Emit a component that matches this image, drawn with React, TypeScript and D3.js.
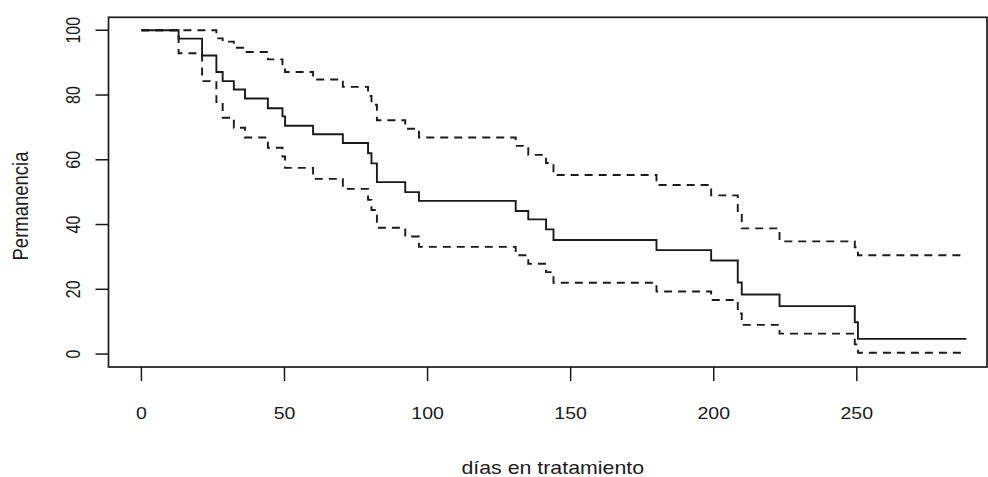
import React from "react";
import * as d3 from "d3";

// tiempos de cada escalon (dias)
const tiempos = [0, 13, 21.2, 26.2, 28.4, 32.3, 36.2, 44.2, 49.3, 50.2, 60, 70.4, 79.2, 80.4, 82.3, 92.2, 97, 130.8, 135.2, 141.4, 144, 180, 199.1, 208.4, 209.8, 223, 249.3, 250.4, 288.3];
const supervivencia = [100, 97.4, 92.2, 87.1, 84.3, 81.7, 78.9, 75.9, 73.4, 70.5, 67.9, 65.2, 62.0, 58.9, 53.1, 50.0, 47.3, 44.2, 41.6, 38.5, 35.2, 32.1, 28.9, 22.1, 18.4, 14.8, 9.8, 4.7, 4.7];
const superior = [100, 100, 100, 97.5, 96.5, 94.6, 93.3, 91.0, 89.5, 87.1, 84.8, 82.5, 79.7, 77.0, 72.2, 69.6, 66.9, 64.3, 61.5, 59.0, 55.3, 52.2, 49.0, 43.5, 38.8, 34.8, 33.0, 30.5, 30.5];
const inferior = [100, 92.9, 84.3, 77.8, 73.0, 69.9, 66.9, 63.7, 61.0, 57.5, 54.1, 51.0, 47.6, 44.5, 39.0, 36.3, 33.1, 30.5, 27.9, 25.3, 22.0, 19.3, 16.7, 12.5, 9.0, 6.3, 3.0, 0.4, 0.4];

const xTicks = [0, 50, 100, 150, 200, 250];
const yTicks = [0, 20, 40, 60, 80, 100];

const W = 988;
const H = 477;
const box = { left: 108.5, right: 987, top: 17.3, bottom: 367 };
const font = "'Liberation Sans', Arial, sans-serif";
const stretch = 1.22;

export default function App() {
  const x = d3.scaleLinear().domain([-11.5, 295.5]).range([box.left, box.right]);
  const y = d3.scaleLinear().domain([-4, 104]).range([box.bottom, box.top]);

  const linea = (vals: number[]) =>
    d3
      .line<number>()
      .x((_, i) => x(tiempos[i]))
      .y((d) => y(d))
      .curve(d3.curveStepAfter)(vals) as string;

  return (
    <svg
      width={W}
      height={H}
      style={{ position: "absolute", left: 0, top: 0, background: "white" }}
    >
      <rect
        x={box.left}
        y={box.top}
        width={box.right - box.left}
        height={box.bottom - box.top}
        fill="none"
        stroke="#1a1a1a"
        strokeWidth={1.7}
      />

      <path d={linea(superior)} fill="none" stroke="#1a1a1a" strokeWidth={1.9} strokeDasharray="8,6" />
      <path d={linea(inferior)} fill="none" stroke="#1a1a1a" strokeWidth={1.9} strokeDasharray="8,6" />
      <path d={linea(supervivencia)} fill="none" stroke="#1a1a1a" strokeWidth={1.9} />

      {xTicks.map((t) => (
        <g key={"x" + t}>
          <line x1={x(t)} x2={x(t)} y1={box.bottom} y2={box.bottom + 14} stroke="#1a1a1a" strokeWidth={1.5} />
          <text
            transform={`translate(${x(t)},${419}) scale(${stretch},1)`}
            textAnchor="middle"
            fontFamily={font}
            fontSize={16}
            fill="#1a1a1a"
          >
            {t}
          </text>
        </g>
      ))}

      {yTicks.map((t) => (
        <g key={"y" + t}>
          <line x1={box.left - 13} x2={box.left} y1={y(t)} y2={y(t)} stroke="#1a1a1a" strokeWidth={1.5} />
          <text
            transform={`translate(${73},${y(t)}) scale(${stretch},1) rotate(-90)`}
            textAnchor="middle"
            dy="0.36em"
            fontFamily={font}
            fontSize={16}
            fill="#1a1a1a"
          >
            {t}
          </text>
        </g>
      ))}

      <text
        transform={`translate(${(box.left + box.right) / 2 + 5},${474}) scale(${stretch},1)`}
        textAnchor="middle"
        fontFamily={font}
        fontSize={17.5}
        fill="#1a1a1a"
      >
        días en tratamiento
      </text>
      <text
        transform={`translate(${20},${206}) scale(${stretch},1) rotate(-90)`}
        textAnchor="middle"
        dy="0.36em"
        fontFamily={font}
        fontSize={18.5}
        fill="#1a1a1a"
      >
        Permanencia
      </text>
    </svg>
  );
}
